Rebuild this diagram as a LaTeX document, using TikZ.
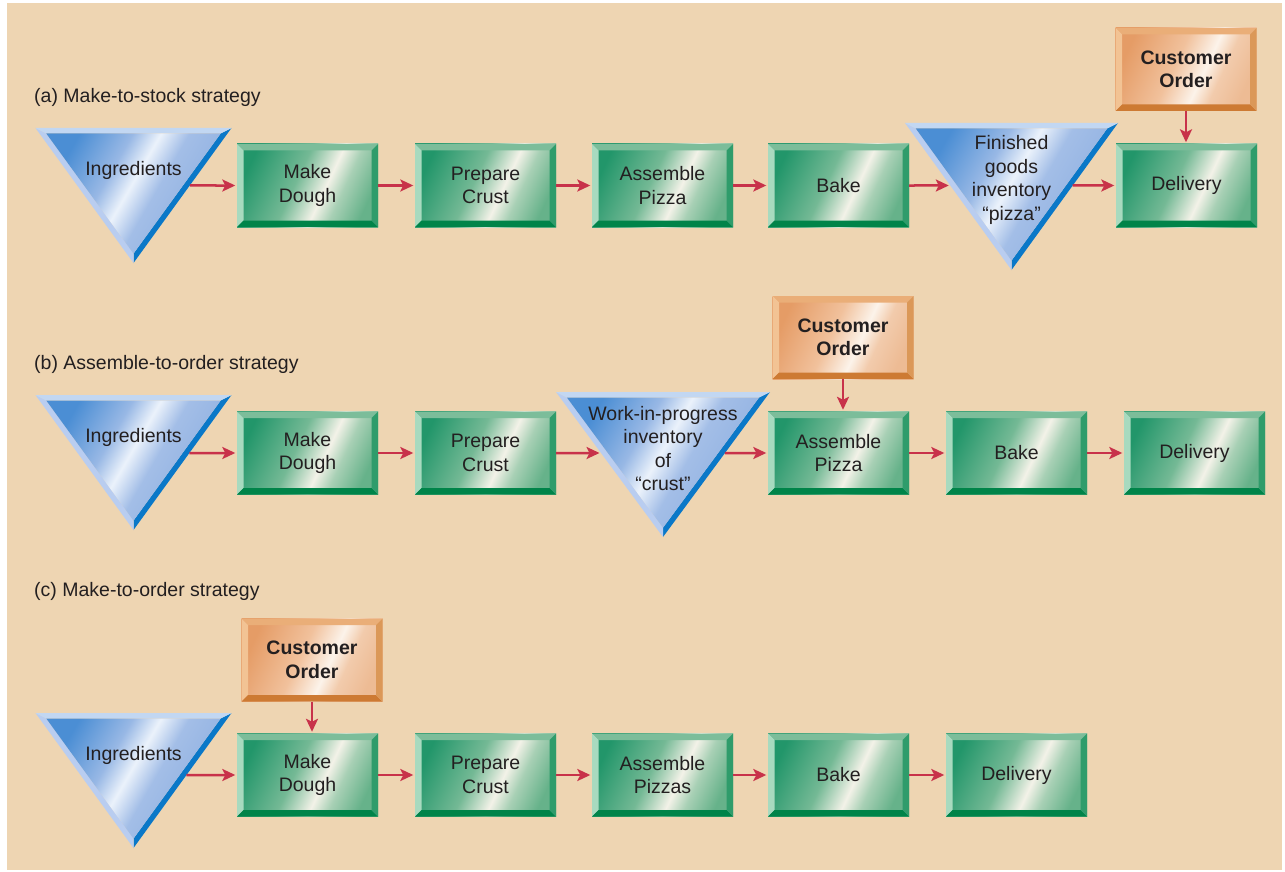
\documentclass[tikz,border=0pt]{standalone}
\usepackage{fontspec}
\setmainfont{Liberation Sans}
\usetikzlibrary{arrows.meta,calc}
\definecolor{bg}{HTML}{EED5B2}
\definecolor{txt}{HTML}{231F20}
\definecolor{arr}{HTML}{C8324A}
% green
\definecolor{gD}{HTML}{22966A}
\definecolor{gM}{HTML}{74B995}
\definecolor{gW}{HTML}{F3F2E8}
\definecolor{gL}{HTML}{A8D0B5}
\definecolor{gE}{HTML}{66B28A}
\definecolor{gTop}{HTML}{7CBD9A}
\definecolor{gLeft}{HTML}{A8DABF}
\definecolor{gBot}{HTML}{008449}
\definecolor{gRight}{HTML}{2F9C6B}
% blue
\definecolor{bD}{HTML}{4B8ED4}
\definecolor{bM}{HTML}{98B8E5}
\definecolor{bW}{HTML}{EBF2FB}
\definecolor{bL}{HTML}{A3BEE7}
\definecolor{bE}{HTML}{8CAEE0}
\definecolor{bTop}{HTML}{C2D7F2}
\definecolor{bLeft}{HTML}{B9CDF0}
\definecolor{bRight}{HTML}{0A78C8}
% orange
\definecolor{oD}{HTML}{E59C66}
\definecolor{oM}{HTML}{F1C19C}
\definecolor{oW}{HTML}{FCF3EA}
\definecolor{oL}{HTML}{F2CBAC}
\definecolor{oE}{HTML}{EDBB94}
\definecolor{oTop}{HTML}{EAAE78}
\definecolor{oLeft}{HTML}{F2C394}
\definecolor{oBot}{HTML}{CD7A33}
\definecolor{oRight}{HTML}{DB9858}
\pgfdeclarehorizontalshading{gshade}{100bp}{color(0bp)=(gD); color(25bp)=(gD); color(45bp)=(gM); color(57bp)=(gW); color(64bp)=(gL); color(75bp)=(gE); color(100bp)=(gE)}
\pgfdeclarehorizontalshading{oshade}{100bp}{color(0bp)=(oD); color(25bp)=(oD); color(45bp)=(oM); color(57bp)=(oW); color(64bp)=(oL); color(75bp)=(oE); color(100bp)=(oE)}
\pgfdeclarehorizontalshading{bshade}{100bp}{color(0bp)=(bD); color(25bp)=(bD); color(40bp)=(bM); color(48bp)=(bW); color(56bp)=(bL); color(75bp)=(bE); color(100bp)=(bE)}
\newcommand\boxfont{\fontsize{19.5}{23.5}\selectfont}
\newcommand\bvl[4]{%
  \coordinate (q1) at (path picture bounding box.north west);
  \coordinate (q2) at (path picture bounding box.north east);
  \coordinate (q3) at (path picture bounding box.south east);
  \coordinate (q4) at (path picture bounding box.south west);
  \fill[#1] (q1) -- (q2) -- ($(q2)+(-6.5pt,-6.5pt)$) -- ($(q1)+(6.5pt,-6.5pt)$) -- cycle;
  \fill[#2] (q1) -- (q4) -- ($(q4)+(6.5pt,6.5pt)$) -- ($(q1)+(6.5pt,-6.5pt)$) -- cycle;
  \fill[#3] (q4) -- (q3) -- ($(q3)+(-6.5pt,6.5pt)$) -- ($(q4)+(6.5pt,6.5pt)$) -- cycle;
  \fill[#4] (q2) -- (q3) -- ($(q3)+(-6.5pt,6.5pt)$) -- ($(q2)+(-6.5pt,-6.5pt)$) -- cycle;
}
% name, cx, ytop, halfwidth, height, arrow y
\newcommand\invtri[6]{%
  \pgfmathsetmacro\tLen{10*sqrt(((#4)/10)*((#4)/10)+((#5)/10)*((#5)/10))}%
  \pgfmathsetmacro\tRad{10*((#4)/10)*((#5)/10)/(((#4)+\tLen)/10)}%
  \pgfmathsetmacro\tK{(\tRad-5.5)/\tRad}%
  \pgfmathsetmacro\tF{((#6)-(#3))/(#5)}%
  \coordinate (#1-TL) at ({#2-#4},#3);
  \coordinate (#1-TR) at ({#2+#4},#3);
  \coordinate (#1-A) at (#2,{#3+#5});
  \coordinate (#1-I) at (#2,{#3+\tRad});
  \coordinate (#1-iTL) at ($(#1-I)!\tK!(#1-TL)$);
  \coordinate (#1-iTR) at ($(#1-I)!\tK!(#1-TR)$);
  \coordinate (#1-iA) at ($(#1-I)!\tK!(#1-A)$);
  \coordinate (#1-in) at ($(#1-TL)!\tF!(#1-A)$);
  \coordinate (#1-out) at ($(#1-TR)!\tF!(#1-A)$);
  \fill[bRight] (#1-TR) -- (#1-A) -- (#1-iA) -- (#1-iTR) -- cycle;
  \fill[bLeft] (#1-TL) -- (#1-A) -- (#1-iA) -- (#1-iTL) -- cycle;
  \fill[bTop] (#1-TL) -- (#1-TR) -- (#1-iTR) -- (#1-iTL) -- cycle;
  \shade[shading=bshade, shading angle=-30] (#1-iTL) -- (#1-iTR) -- (#1-iA) -- cycle;
}
\tikzset{
  bevelbox/.style={rectangle, minimum width=141pt, minimum height=83pt, inner sep=0pt,
    align=center, text=txt, font=\boxfont},
  gbox/.style={bevelbox, shade, shading=gshade, shading angle=-25,
    path picture={\bvl{gTop}{gLeft}{gBot}{gRight}}},
  obox/.style={bevelbox, font=\boxfont\bfseries, shade, shading=oshade, shading angle=-25,
    path picture={\bvl{oTop}{oLeft}{oBot}{oRight}}},
  tritext/.style={align=center, text=txt, font=\boxfont, inner sep=0pt},
  label/.style={anchor=west, text=txt, font=\boxfont, inner sep=0pt},
  flow/.style={draw=arr, line width=2.5pt, shorten >=1.5pt,
    -{Stealth[length=13pt,width=12pt,inset=3pt]}}
}
\begin{document}
\begin{tikzpicture}[x=1pt,y=-1pt]
\useasboundingbox (0,0) rectangle (1285,872);
\fill[white] (0,0) rectangle (1285,872);
\fill[bg] (7,3) rectangle (1282,870);

% ---------- (a) ----------
\node[label] (la) at (34,97.5) {(a) Make-to-stock strategy};
\invtri{ingA}{133.5}{128}{98}{135}{185.5}
\node[tritext] (ingAt) at (133.5,170) {Ingredients};
\node[gbox] (mdA) at (307.5,185.5) {Make\\Dough};
\node[gbox] (pcA) at (485.5,185.5) {Prepare\\Crust};
\node[gbox] (apA) at (662.5,185.5) {Assemble\\Pizza};
\node[gbox] (bkA) at (838.5,185.5) {Bake};
\invtri{fgA}{1011.5}{123}{106.5}{147}{185.5}
\node[tritext] (fgAt) at (1011.5,180) {Finished\\goods\\inventory\\“pizza”};
\node[gbox] (dvA) at (1186.5,185.5) {Delivery};
\node[obox] (coA) at (1186,69.5) {Customer\\Order};
\draw[flow] (ingA-out) -- (mdA.west);
\draw[flow] (mdA.east) -- (pcA.west);
\draw[flow] (pcA.east) -- (apA.west);
\draw[flow] (apA.east) -- (bkA.west);
\draw[flow] (bkA.east) -- (fgA-in);
\draw[flow] (fgA-out) -- (dvA.west);
\draw[flow] (coA.south) -- (coA.south |- dvA.north);

% ---------- (b) ----------
\node[label] (lb) at (34,364.5) {(b) Assemble-to-order strategy};
\invtri{ingB}{133.5}{395}{98}{135}{453}
\node[tritext] (ingBt) at (133.5,437) {Ingredients};
\node[gbox] (mdB) at (307.5,453) {Make\\Dough};
\node[gbox] (pcB) at (485.5,453) {Prepare\\Crust};
\invtri{wpB}{663}{392}{107}{145}{453}
\node[tritext] (wpBt) at (663,448.5) {Work-in-progress\\inventory\\of\\“crust”};
\node[gbox] (apB) at (838.5,453) {Assemble\\Pizza};
\node[gbox] (bkB) at (1016.5,453) {Bake};
\node[gbox] (dvB) at (1194.5,453) {Delivery};
\node[obox] (coB) at (843,337.5) {Customer\\Order};
\draw[flow] (ingB-out) -- (mdB.west);
\draw[flow] (mdB.east) -- (pcB.west);
\draw[flow] (pcB.east) -- (wpB-in);
\draw[flow] (wpB-out) -- (apB.west);
\draw[flow] (apB.east) -- (bkB.west);
\draw[flow] (bkB.east) -- (dvB.west);
\draw[flow] (coB.south) -- (coB.south |- apB.north);

% ---------- (c) ----------
\node[label] (lc) at (34,591.5) {(c) Make-to-order strategy};
\invtri{ingC}{133.5}{713}{98}{135}{775}
\node[tritext] (ingCt) at (133.5,755) {Ingredients};
\node[gbox] (mdC) at (307.5,775) {Make\\Dough};
\node[gbox] (pcC) at (485.5,775) {Prepare\\Crust};
\node[gbox] (apC) at (662.5,775) {Assemble\\Pizzas};
\node[gbox] (bkC) at (838.5,775) {Bake};
\node[gbox] (dvC) at (1016.5,775) {Delivery};
\node[obox] (coC) at (312,660) {Customer\\Order};
\draw[flow] (ingC-out) -- (mdC.west);
\draw[flow] (mdC.east) -- (pcC.west);
\draw[flow] (pcC.east) -- (apC.west);
\draw[flow] (apC.east) -- (bkC.west);
\draw[flow] (bkC.east) -- (dvC.west);
\draw[flow] (coC.south) -- (coC.south |- mdC.north);
\end{tikzpicture}
\end{document}
